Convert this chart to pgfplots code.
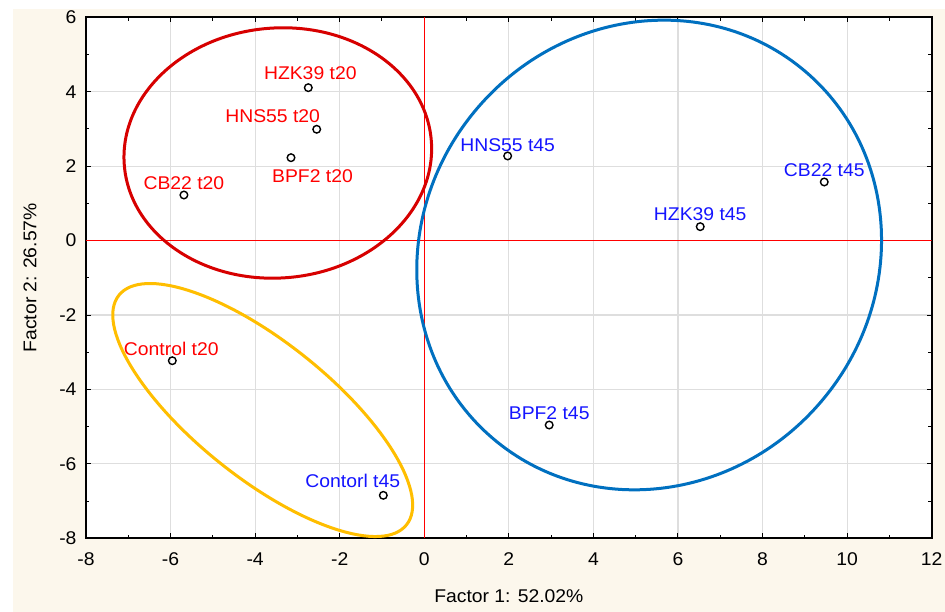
\documentclass[border=0pt]{standalone}
\usepackage{fontspec}
\setmainfont{Liberation Sans}[FakeStretch=1.05]
\usepackage{pgfplots}
\usepackage{pgfplotstable}
\pgfplotsset{compat=1.18}

\definecolor{cream}{RGB}{252,247,236}
\definecolor{gridgray}{RGB}{222,222,222}
\definecolor{ellred}{RGB}{215,0,0}
\definecolor{ellblue}{RGB}{0,112,192}
\definecolor{ellyellow}{RGB}{255,190,0}
\definecolor{txtred}{RGB}{255,0,0}
\definecolor{txtblue}{RGB}{20,20,255}

% dx, dy: label offset from the point, in bp
\pgfplotstableread[col sep=comma]{
x,y,label,dx,dy
-2.743,4.109,HZK39 t20,2,15
-2.544,2.991,HNS55 t20,-44,13.5
-3.152,2.228,BPF2 t20,21.5,-18
-5.684,1.225,CB22 t20,0,12
-5.959,-3.228,Control t20,-1,11.5
}\tTwenty

\pgfplotstableread[col sep=comma]{
x,y,label,dx,dy
1.972,2.274,HNS55 t45,0,10.5
9.459,1.575,CB22 t45,0,11.5
6.526,0.374,HZK39 t45,0,12.5
2.954,-4.956,BPF2 t45,0,11.5
-0.969,-6.845,Contorl t45,-30.5,14.8
}\tFortyFive

\begin{document}
\begin{tikzpicture}
\useasboundingbox (-86bp,-73.7bp) rectangle (859bp,538.3bp);
\fill[cream] (-73.3bp,-73.7bp) rectangle (859bp,529bp);
\begin{axis}[
  scale only axis,
  width=845.7bp, height=521bp,
  xmin=-8, xmax=12, ymin=-8, ymax=6,
  xtick={-8,-6,...,12}, ytick={-8,-6,...,6},
  minor tick num=1,
  tick align=inside, xtick pos=both, ytick pos=both,
  major tick length=5bp, minor tick length=3.5bp,
  tick style={black, line width=1bp},
  axis line style={black, line width=1.8bp},
  axis background/.style={fill=white},
  grid=major,
  major grid style={draw=gridgray, line width=1.2bp},
  ticklabel style={font=\fontsize{18.5}{20}\selectfont},
  /pgf/number format/assume math mode=true,
  xticklabel style={yshift=-10.5bp},
  yticklabel style={xshift=-6bp},
  xlabel={Factor 1: 52.02\%},
  ylabel={Factor 2: 26.57\%},
  label style={font=\fontsize{18.5}{20}\selectfont},
  xlabel style={at={(axis description cs:0.5,-0.111)}, anchor=center},
  ylabel style={at={(axis description cs:-0.0662,0.5)}, anchor=center},
  nodes near coords style={font=\fontsize{18.5}{20}\selectfont, anchor=center, inner sep=0pt},
]

% zero lines
\addplot[txtred, line width=1.5bp, forget plot] coordinates {(0,-8) (0,6)};
\addplot[txtred, line width=1.5bp, forget plot] coordinates {(-8,0) (12,0)};

% group ellipses
\draw[ellred, line width=3bp, rotate around={4.65:(axis cs:-3.464,2.354)}]
  (axis cs:-3.464,2.354) ellipse [x radius=154bp, y radius=125bp];
\draw[ellblue, line width=3bp, rotate around={49.7:(axis cs:5.318,-0.387)}]
  (axis cs:5.318,-0.387) ellipse [x radius=241bp, y radius=226bp];
\draw[ellyellow, line width=3bp, rotate around={-38.6:(axis cs:-3.821,-4.553)}]
  (axis cs:-3.821,-4.553) ellipse [x radius=184bp, y radius=68bp];

% t20 samples
\addplot[only marks, mark=o, mark size=3.8bp, mark options={black, line width=1.4bp},
  point meta=explicit symbolic,
  visualization depends on={\thisrow{dx}\as\dx},
  visualization depends on={\thisrow{dy}\as\dy},
  nodes near coords,
  nodes near coords style={text=txtred, xshift=\dx bp, yshift=\dy bp}]
  table[x=x, y=y, meta=label] {\tTwenty};

% t45 samples
\addplot[only marks, mark=o, mark size=3.8bp, mark options={black, line width=1.4bp},
  point meta=explicit symbolic,
  visualization depends on={\thisrow{dx}\as\dx},
  visualization depends on={\thisrow{dy}\as\dy},
  nodes near coords,
  nodes near coords style={text=txtblue, xshift=\dx bp, yshift=\dy bp}]
  table[x=x, y=y, meta=label] {\tFortyFive};

\end{axis}
\end{tikzpicture}
\end{document}
